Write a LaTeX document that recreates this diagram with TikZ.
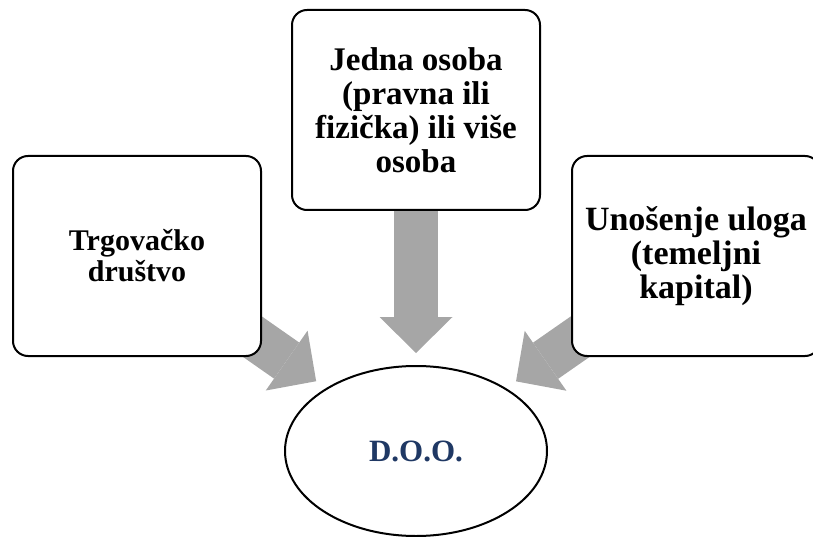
\documentclass[tikz,border=0pt]{standalone}
\usepackage{fontspec}
\setmainfont{Liberation Serif}
\usetikzlibrary{shapes.geometric, arrows.meta, backgrounds}
\definecolor{arrowgray}{RGB}{166,166,166}
\definecolor{dooblue}{RGB}{31,56,100}
\tikzset{
  box/.style = {rectangle, rounded corners=15pt, draw, line width=2pt, fill=white,
    minimum width=248pt, minimum height=200pt, align=center},
  oval/.style = {ellipse, draw, line width=2pt, fill=white, minimum width=262pt,
    minimum height=170pt, inner sep=0pt, text=dooblue,
    font=\fontsize{31}{34}\selectfont\bfseries},
  flow/.style = {arrowgray, line width=44pt,
    -{Triangle[length=36pt, width=73pt, line width=0pt]}, shorten >=12pt}
}

\begin{document}
\begin{tikzpicture}[x=1pt, y=-1pt]
  \useasboundingbox (0,0) rectangle (813,537);

  % Boxes
  \node[box, font=\fontsize{30}{31}\selectfont\bfseries] (firm) at (137,256) {Trgovačko\\društvo};
  \node[box, font=\fontsize{33}{34}\selectfont\bfseries] (person) at (416,110) {Jedna osoba\\(pravna ili\\fizička) ili više\\osoba};
  \node[box, font=\fontsize{34}{34}\selectfont\bfseries] (capital) at (696,256) {Unošenje uloga\\(temeljni\\kapital)};

  % Result
  \node[oval] (doo) at (416,451) {D.O.O.};

  % Arrows
  \begin{pgfonlayer}{background}
    \draw[flow] (firm.center) -- (doo);
    \draw[flow] (person.center) -- (doo);
    \draw[flow] (capital.center) -- (doo);
  \end{pgfonlayer}
\end{tikzpicture}
\end{document}
